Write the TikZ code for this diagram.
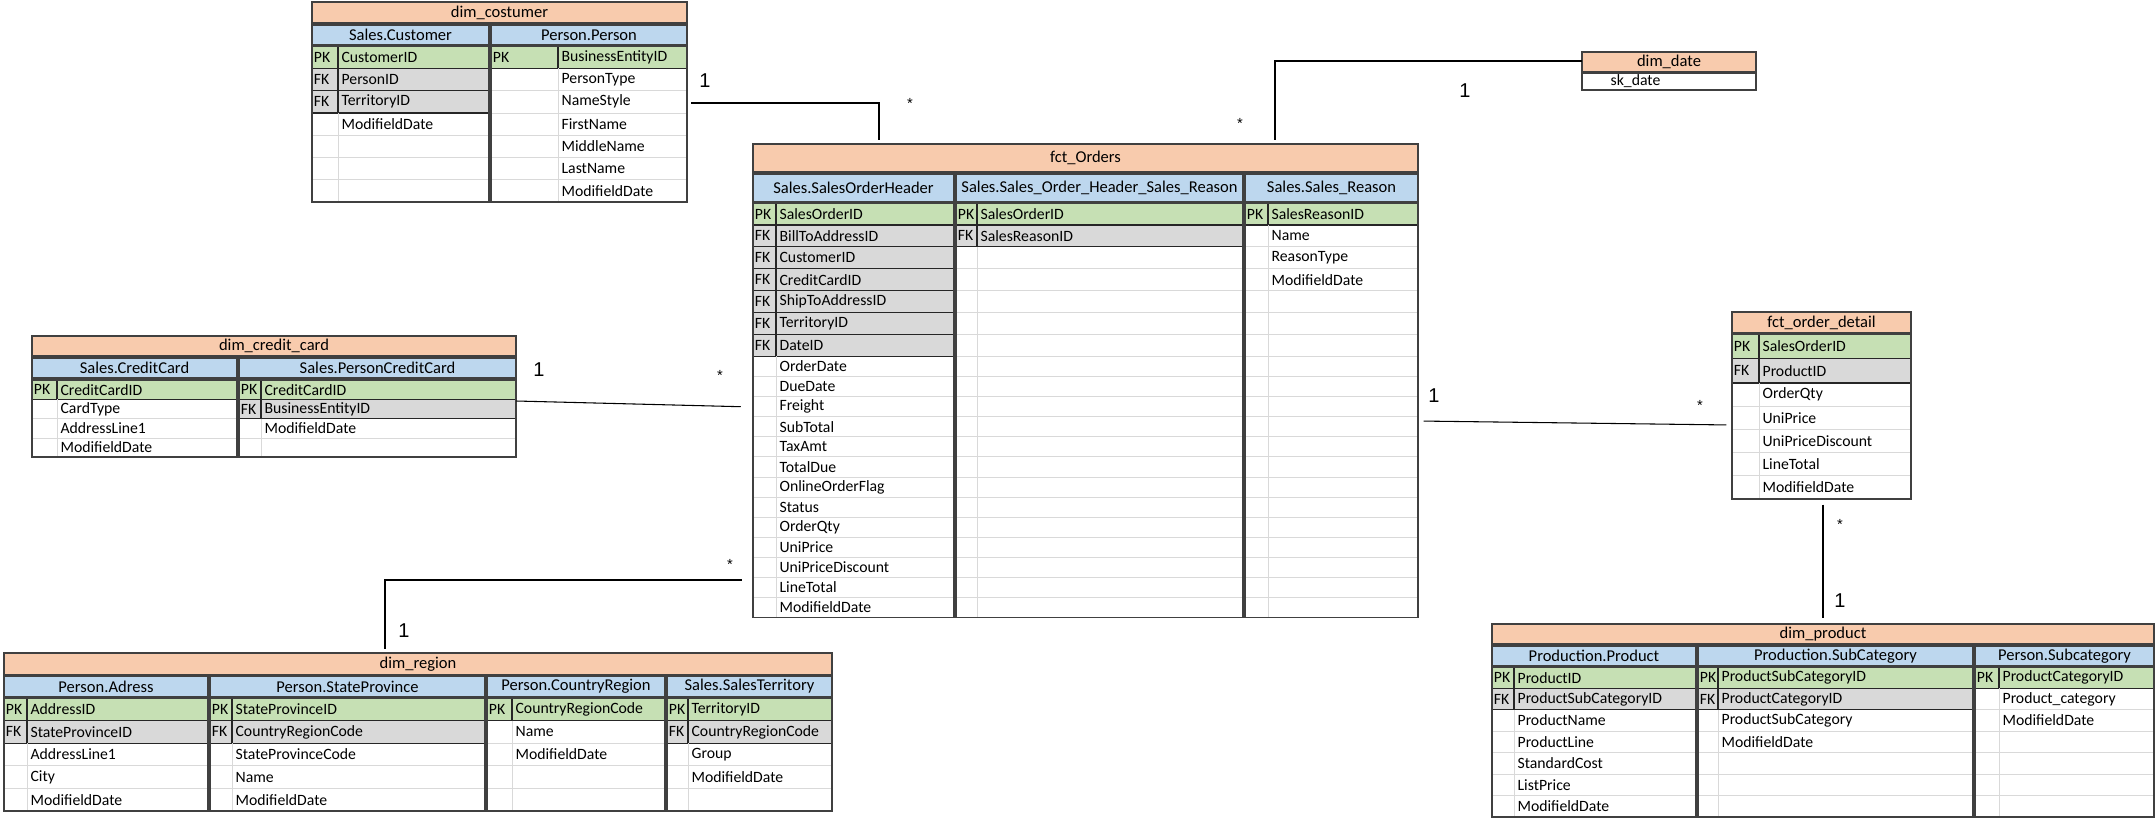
\documentclass[tikz,border=0pt]{standalone}
\usepackage{fontspec}
\setmainfont{Carlito}
\newfontfamily\lblfont{Liberation Sans}
\usetikzlibrary{fit}
\definecolor{hdorange}{HTML}{F8CBAD}
\definecolor{subblue}{HTML}{BDD7EE}
\definecolor{pkgreen}{HTML}{C6E0B4}
\definecolor{fkgray}{HTML}{D9D9D9}
\tikzset{
  headbox/.style={draw=black!75, line width=1.2pt, fill=hdorange},
  subbox/.style={draw=black!75, line width=1.2pt, fill=subblue},
  colbox/.style={draw=black!75, line width=1.2pt},
  keyrow/.style={draw=black!85, line width=0.9pt},
  gridln/.style={draw=black!15, line width=0.6pt},
  celltxt/.style={anchor=west, inner sep=2.5pt, font=\fontsize{11.8}{13}\selectfont},
  keytxt/.style={anchor=west, inner sep=1.2pt, font=\fontsize{11.8}{13}\selectfont},
  hdtxt/.style={inner sep=0pt, font=\fontsize{12.4}{14}\selectfont},
  tabframe/.style={inner sep=0pt, draw=none},
  rel/.style={black, line width=0.8pt},
  cardone/.style={inner sep=0pt, font=\lblfont\fontsize{15}{15}\selectfont},
  cardmany/.style={inner sep=0pt, font=\lblfont\fontsize{11}{11}\selectfont},
}
\newcommand{\tabhead}[6]{%
  \draw[headbox] (#2,#3) rectangle (#4,#5);
  \node[hdtxt] (#1) at ({(#2+#4)/2},{(#3+#5)/2}) {#6};
}
\newcommand{\tabsub}[6]{%
  \draw[subbox] (#2,#3) rectangle (#4,#5);
  \node[hdtxt] (#1) at ({(#2+#4)/2},{(#3+#5)/2}) {#6};
}
% #6 rows of height #7 first, then rows of height #8
\newcommand{\tabrows}[9]{%
  \xdef\rowbot{#5}
  \foreach \k/\t [count=\i from 0] in {#9} {
    \pgfmathsetmacro{\ya}{\rowbot}
    \pgfmathsetmacro{\yb}{\ya+(\i<#6 ? #7 : #8)}
    \ifcase\k
      \draw[gridln] (#2,\yb) -- (#4,\yb) (#3,\ya) -- (#3,\yb);
    \or
      \draw[keyrow, fill=pkgreen] (#2,\ya) rectangle (#4,\yb) (#3,\ya) -- (#3,\yb);
      \node[keytxt] (#1-k\i) at (#2,{(\ya+\yb)/2}) {PK};
    \or
      \draw[keyrow, fill=fkgray] (#2,\ya) rectangle (#4,\yb) (#3,\ya) -- (#3,\yb);
      \node[keytxt] (#1-k\i) at (#2,{(\ya+\yb)/2}) {FK};
    \fi
    \node[celltxt] (#1-\i) at (#3,{(\ya+\yb)/2}) {\t};
    \xdef\rowbot{\yb}
  }
  \draw[colbox] (#2,#5) rectangle (#4,\rowbot);
}

\begin{document}
\begin{tikzpicture}[x=0.75pt, y=-0.75pt]
\useasboundingbox[fill=white] (0,0) rectangle (2156,819);

\tabhead{costh}{312}{2}{687}{23}{dim\_costumer}
\tabsub{costa}{312}{25}{489}{45}{Sales.Customer}
\tabrows{costar}{312}{338}{489}{46}{0}{0}{22.3}{1/CustomerID,2/PersonID,2/TerritoryID,0/ModifieldDate,0/,0/,0/}
\tabsub{costb}{491}{25}{687}{45}{Person.Person}
\tabrows{costbr}{491}{558}{687}{46}{0}{0}{22.3}{1/BusinessEntityID,0/PersonType,0/NameStyle,0/FirstName,0/MiddleName,0/LastName,0/ModifieldDate}
\node[tabframe, fit={(312,2) (687,202)}] (cost) {};

\tabhead{dateh}{1582}{52}{1756}{72}{dim\_date}
\draw[colbox] (1582,73) rectangle (1756,90);
\node[celltxt] (date-0) at (1607,81.5) {sk\_date};
\node[tabframe, fit={(1582,52) (1756,90)}] (date) {};

\tabhead{ordh}{753}{144}{1418}{172}{fct\_Orders}
\tabsub{orda}{753}{174}{954}{202}{Sales.SalesOrderHeader}
\tabrows{ordar}{753}{776}{954}{203}{7}{21.9}{20.1}{1/SalesOrderID,2/BillToAddressID,2/CustomerID,2/CreditCardID,2/ShipToAddressID,2/TerritoryID,2/DateID,0/OrderDate,0/DueDate,0/Freight,0/SubTotal,0/TaxAmt,0/TotalDue,0/OnlineOrderFlag,0/Status,0/OrderQty,0/UniPrice,0/UniPriceDiscount,0/LineTotal,0/ModifieldDate}
\tabsub{ordb}{956}{174}{1243}{202}{Sales.Sales\_Order\_Header\_Sales\_Reason}
\tabrows{ordbr}{956}{977}{1243}{203}{7}{21.9}{20.1}{1/SalesOrderID,2/SalesReasonID,0/,0/,0/,0/,0/,0/,0/,0/,0/,0/,0/,0/,0/,0/,0/,0/,0/,0/}
\tabsub{ordc}{1245}{174}{1418}{202}{Sales.Sales\_Reason}
\tabrows{ordcr}{1245}{1268}{1418}{203}{7}{21.9}{20.1}{1/SalesReasonID,0/Name,0/ReasonType,0/ModifieldDate,0/,0/,0/,0/,0/,0/,0/,0/,0/,0/,0/,0/,0/,0/,0/,0/}
\node[tabframe, fit={(753,144) (1418,617)}] (ord) {};

\tabhead{credith}{32}{336}{516}{356}{dim\_credit\_card}
\tabsub{credita}{32}{358}{237}{378}{Sales.CreditCard}
\tabrows{creditar}{32}{57}{237}{380}{0}{0}{19.3}{1/CreditCardID,0/CardType,0/AddressLine1,0/ModifieldDate}
\tabsub{creditb}{239}{358}{516}{378}{Sales.PersonCreditCard}
\tabrows{creditbr}{239}{261}{516}{380}{0}{0}{19.3}{1/CreditCardID,2/BusinessEntityID,0/ModifieldDate,0/}
\node[tabframe, fit={(32,336) (516,457)}] (credit) {};

\tabhead{detailh}{1732}{312}{1911}{333}{fct\_order\_detail}
\tabrows{detailr}{1732}{1759}{1911}{334}{2}{24.5}{23.2}{1/SalesOrderID,2/ProductID,0/OrderQty,0/UniPrice,0/UniPriceDiscount,0/LineTotal,0/ModifieldDate}
\node[tabframe, fit={(1732,312) (1911,499)}] (detail) {};

\tabhead{regionh}{4}{653}{832}{675}{dim\_region}
\tabsub{regiona}{4}{676}{208}{697}{Person.Adress}
\tabrows{regionar}{4}{27}{208}{698}{0}{0}{22.6}{1/AddressID,2/StateProvinceID,0/AddressLine1,0/City,0/ModifieldDate}
\tabsub{regionb}{210}{676}{485}{697}{Person.StateProvince}
\tabrows{regionbr}{210}{232}{485}{698}{0}{0}{22.6}{1/StateProvinceID,2/CountryRegionCode,0/StateProvinceCode,0/Name,0/ModifieldDate}
\tabsub{regionc}{487}{676}{665}{697}{Person.CountryRegion}
\tabrows{regioncr}{487}{512}{665}{698}{0}{0}{22.6}{1/CountryRegionCode,0/Name,0/ModifieldDate,0/,0/}
\tabsub{regiond}{667}{676}{832}{697}{Sales.SalesTerritory}
\tabrows{regiondr}{667}{688}{832}{698}{0}{0}{22.6}{1/TerritoryID,2/CountryRegionCode,0/Group,0/ModifieldDate,0/}
\node[tabframe, fit={(4,653) (832,811)}] (region) {};

\tabhead{prodh}{1492}{624}{2154}{644}{dim\_product}
\tabsub{proda}{1492}{646}{1696}{666}{Production.Product}
\tabrows{prodar}{1492}{1514}{1696}{667}{0}{0}{21.4}{1/ProductID,2/ProductSubCategoryID,0/ProductName,0/ProductLine,0/StandardCost,0/ListPrice,0/ModifieldDate}
\tabsub{prodb}{1698}{646}{1973}{666}{Production.SubCategory}
\tabrows{prodbr}{1698}{1718}{1973}{667}{0}{0}{21.4}{1/ProductSubCategoryID,2/ProductCategoryID,0/ProductSubCategory,0/ModifieldDate,0/,0/,0/}
\tabsub{prodc}{1975}{646}{2154}{666}{Person.Subcategory}
\tabrows{prodcr}{1975}{1999}{2154}{667}{0}{0}{21.4}{1/ProductCategoryID,0/Product\_category,0/ModifieldDate,0/,0/,0/,0/}
\node[tabframe, fit={(1492,624) (2154,817)}] (prod) {};

\draw[rel, shorten <=3pt, shorten >=3pt] (cost.east |- 0,103) -| (879,0 |- ord.north);
\draw[rel, shorten <=3pt] (1275,0 |- ord.north) |- (date.west |- 0,61);
\draw[rel, shorten >=9pt] (credit.east |- 0,401) -- (ord.west |- 0,407);
\draw[rel, shorten <=3pt, shorten >=8pt] (385,0 |- region.north) |- (ord.west |- 0,580);
\draw[rel, shorten <=4pt, shorten >=4pt] (ord.east |- 0,421) -- (detail.west |- 0,425);
\draw[rel, shorten <=4pt, shorten >=4pt] (1823,0 |- detail.south) -- (1823,0 |- prod.north);

\node[cardone] (c1) at (705,81) {1};
\node[cardmany] (m1) at (910,103) {*};
\node[cardone] (c2) at (1465,91) {1};
\node[cardmany] (m2) at (1240,123) {*};
\node[cardone] (c3) at (539,370) {1};
\node[cardmany] (m3) at (720,375) {*};
\node[cardone] (c4) at (404,631) {1};
\node[cardmany] (m4) at (730,564) {*};
\node[cardone] (c5) at (1434,396) {1};
\node[cardmany] (m5) at (1700,405) {*};
\node[cardmany] (m6) at (1840,524) {*};
\node[cardone] (c6) at (1840,601) {1};
\end{tikzpicture}
\end{document}
